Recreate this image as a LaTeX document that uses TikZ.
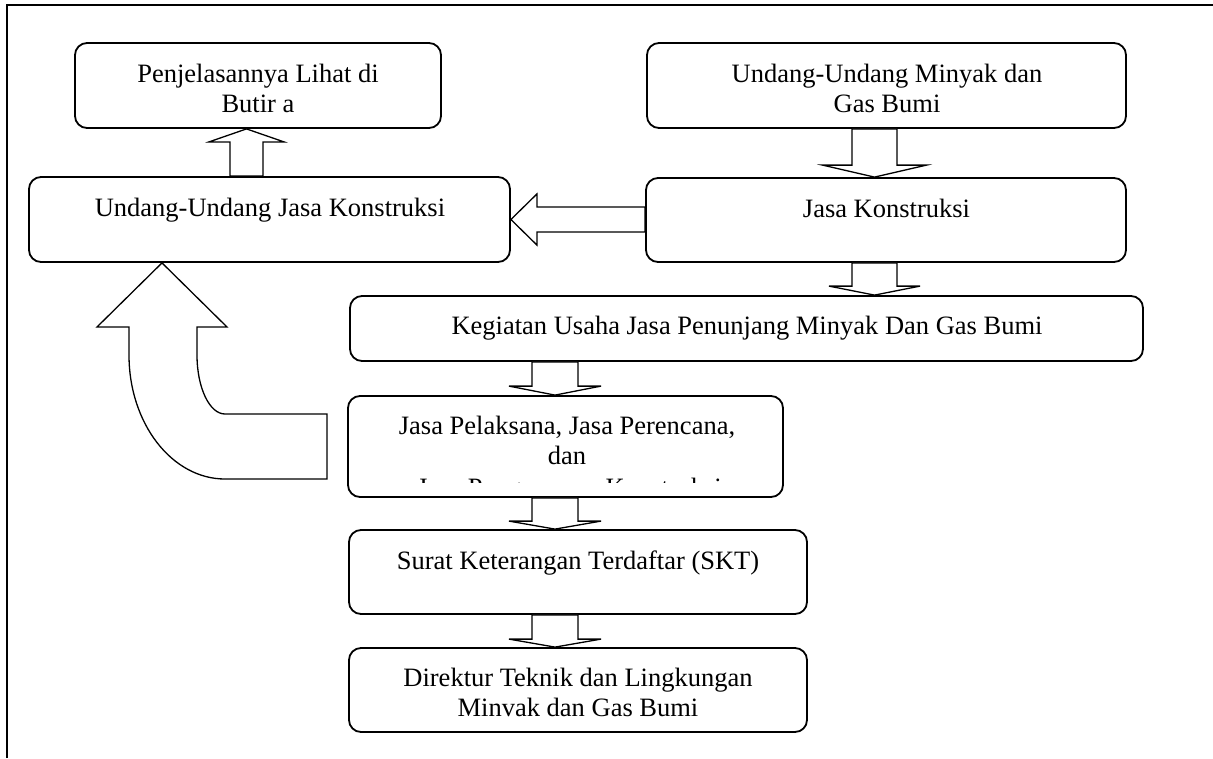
\documentclass[tikz,border=0pt]{standalone}
\usepackage{fontspec}
\setmainfont{Liberation Serif}
\usetikzlibrary{calc}
\tikzset{
  box/.style={draw, line width=1.8pt, rounded corners=12pt, inner sep=0pt},
  lbl/.style={anchor=base, inner sep=0pt, font=\fontsize{26.5}{30.5}\selectfont},
  blockarrow/.style={draw, line width=1.3pt, fill=white, line join=miter},
  frameline/.style={line width=2pt}
}
% vertical block arrow: #1 from node (south), #2 to node (north), #3 centre x, #4 half shaft, #5 half head, #6 head length
\newcommand{\downblock}[6]{%
  \draw[blockarrow] let \p1=(#1.south), \p2=(#2.north) in
    ({#3pt-#4pt},\y1) -- ({#3pt-#4pt},{\y2+#6pt}) -- ({#3pt-#5pt},{\y2+#6pt}) -- (#3pt,\y2)
    -- ({#3pt+#5pt},{\y2+#6pt}) -- ({#3pt+#4pt},{\y2+#6pt}) -- ({#3pt+#4pt},\y1) -- cycle;}
\begin{document}
\begin{tikzpicture}[x=1pt,y=-1pt]
\useasboundingbox (0,0) rectangle (1213,758);
% outer frame (top and left visible)
\draw[frameline] (7,758) -- (7,5) -- (1213,5);

% boxes
\node[box, minimum width=366pt, minimum height=85pt] (b1) at (258,85.5) {};
\node[box, minimum width=479pt, minimum height=85pt] (b2) at (886.5,85.5) {};
\node[box, minimum width=481pt, minimum height=85pt] (b3) at (269.5,219.5) {};
\node[box, minimum width=480pt, minimum height=84pt] (b4) at (886,220) {};
\node[box, minimum width=793pt, minimum height=65pt] (b5) at (746.5,328.5) {};
\node[box, minimum width=435pt, minimum height=101pt] (b6) at (565.5,446.5) {};
\node[box, minimum width=458pt, minimum height=84pt] (b7) at (578,572) {};
\node[box, minimum width=458pt, minimum height=84pt] (b8) at (578,690) {};

% texts
\node[lbl] (t1a) at ($(b1.north)+(0,40)$) {Penjelasannya Lihat di};
\node[lbl] (t1b) at ($(b1.north)+(0,70)$) {Butir a};
\node[lbl] (t2a) at ($(b2.north)+(0.5,40.5)$) {Undang-Undang Minyak dan};
\node[lbl] (t2b) at ($(b2.north)+(0.5,70.5)$) {Gas Bumi};
\node[lbl] (t3) at ($(b3.north)+(0.5,40)$) {Undang-Undang Jasa Konstruksi};
\node[lbl] (t4) at ($(b4.north)+(0.5,40)$) {Jasa Konstruksi};
\node[lbl] (t5) at ($(b5.north)+(0.5,39)$) {Kegiatan Usaha Jasa Penunjang Minyak Dan Gas Bumi};
\node[lbl] (t6a) at ($(b6.north)+(1.5,39)$) {Jasa Pelaksana, Jasa Perencana,};
\node[lbl] (t6b) at ($(b6.north)+(1.5,69)$) {dan};
\begin{scope}
  \clip (350,398) rectangle (781,482);
  \node[lbl] (t6c) at ($(b6.north)+(4,101)$) {Jasa Pengawasan Konstruksi};
\end{scope}
\node[lbl] (t7) at ($(b7.north)+(0,40)$) {Surat Keterangan Terdaftar (SKT)};
\node[lbl] (t8a) at ($(b8.north)+(0,39)$) {Direktur Teknik dan Lingkungan};
\node[lbl] (t8b) at ($(b8.north)+(0,69)$) {Minvak dan Gas Bumi};

% up arrow b3 -> b1
\draw[blockarrow] let \p1=(b3.north), \p2=(b1.south) in
  (230pt,\y1) -- (230pt,{\y2-13pt}) -- (209pt,{\y2-13pt}) -- (246.5pt,\y2)
  -- (284pt,{\y2-13pt}) -- (263pt,{\y2-13pt}) -- (263pt,\y1) -- cycle;

% down arrows
\downblock{b2}{b4}{874.5}{22.5}{52}{12}
\downblock{b4}{b5}{874.5}{22.5}{45.5}{9}
\downblock{b5}{b6}{555}{23}{46}{9}
\downblock{b6}{b7}{555}{23}{46}{8}
\downblock{b7}{b8}{555}{23}{46}{8}

% left arrow b4 -> b3
\draw[blockarrow] let \p1=(b4.west), \p2=(b3.east) in
  (\x1,-207pt) -- ({\x2+26pt},-207pt) -- ({\x2+26pt},-194pt) -- (\x2,-219.5pt)
  -- ({\x2+26pt},-245pt) -- ({\x2+26pt},-232pt) -- (\x1,-232pt) -- cycle;

% bent arrow pointing up to b3
\coordinate (cx) at (162,0);
\coordinate (ctip) at (b3.south -| cx);
\draw[blockarrow] (ctip) -- (227,327) -- (197,327) -- (197,355)
  .. controls (197,387.6) and (209.5,414) .. (225,414) -- (327,414) -- (327,479) -- (225,479)
  .. controls (172,479) and (129,423.5) .. (129,355) -- (129,327) -- (97,327) -- cycle;
\end{tikzpicture}
\end{document}
